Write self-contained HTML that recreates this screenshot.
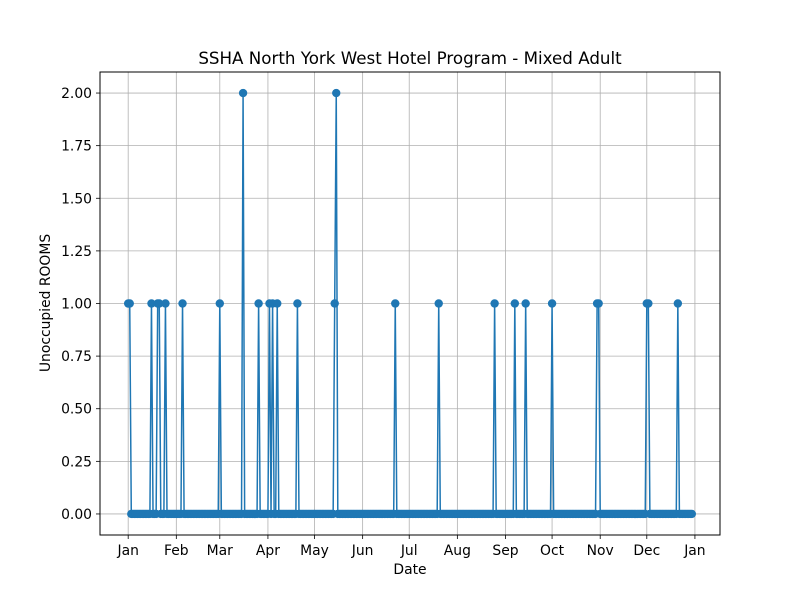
<!DOCTYPE html>
<html><head><meta charset="utf-8"><style>
body{margin:0;background:#fff}
svg{display:block;font-family:"DejaVu Sans","Liberation Sans",sans-serif}
</style></head><body>
<svg id="chart" width="800" height="600">
<rect x="0" y="0" width="800" height="600" fill="#fff"/>
<g id="grid"></g>
<g id="series"></g>
<rect x="100" y="72" width="620" height="463" fill="none" stroke="#000" stroke-width="1"/>
<g id="xticks" font-size="13.9"></g>
<g id="yticks" font-size="13.9"></g>
<text x="410" y="64" text-anchor="middle" font-size="16.7">SSHA North York West Hotel Program - Mixed Adult</text>
<text x="410" y="574" text-anchor="middle" font-size="13.9">Date</text>
<text transform="translate(50,303) rotate(-90)" text-anchor="middle" font-size="13.9">Unoccupied ROOMS</text>
</svg>
<script>
const numDays = 364;
const spikeDays = [0,1,15,19,20,24,35,59,74,84,91,93,96,109,133,134,172,200,236,249,256,273,302,303,334,335,354];
const spikeValues = [1,1,1,1,1,1,1,1,2,1,1,1,1,1,1,2,1,1,1,1,1,1,1,1,1,1,1];
const monthLabels = ["Jan","Feb","Mar","Apr","May","Jun","Jul","Aug","Sep","Oct","Nov","Dec","Jan"];
const monthDays = [0,31,59,90,120,151,181,212,243,273,304,334,365];
const yTicks = [0,0.25,0.5,0.75,1,1.25,1.5,1.75,2];

const values = new Array(numDays).fill(0);
spikeDays.forEach((d,i)=>{values[d]=spikeValues[i];});

const X0=100,X1=720,Y0=535,Y1=72;
const xmin=-(numDays-1)*0.05, xmax=(numDays-1)*1.05;
const ymin=-0.1, ymax=2.1;
const xs=d=>X0+(d-xmin)/(xmax-xmin)*(X1-X0);
const ys=v=>Y0-(v-ymin)/(ymax-ymin)*(Y0-Y1);
const NS="http://www.w3.org/2000/svg";
function mk(tag,attrs,parent){const e=document.createElementNS(NS,tag);for(const k in attrs)e.setAttribute(k,attrs[k]);parent.appendChild(e);return e;}
const grid=document.getElementById('grid'),xt=document.getElementById('xticks'),yt=document.getElementById('yticks'),ser=document.getElementById('series');

monthDays.forEach((d,i)=>{
  const x=xs(d);
  const g=mk('line',{x1:x,x2:x,y1:Y1,y2:Y0,stroke:'#b0b0b0','stroke-width':0.8},grid);
  
  
  mk('line',{x1:x,x2:x,y1:Y0,y2:Y0+4,stroke:'#000','stroke-width':0.8},xt);
  const t=mk('text',{x:x,y:Y0+20,'text-anchor':'middle'},xt);
  t.textContent=monthLabels[i];
  
  
});
yTicks.forEach(v=>{
  const y=ys(v);
  const g=mk('line',{x1:X0,x2:X1,y1:y,y2:y,stroke:'#b0b0b0','stroke-width':0.8},grid);
  
  
  mk('line',{x1:X0-4,x2:X0,y1:y,y2:y,stroke:'#000','stroke-width':0.8},yt);
  const t=mk('text',{x:X0-8,y:y+5,'text-anchor':'end'},yt);
  t.textContent=v.toFixed(2);
  
  
});
const pts=values.map((v,d)=>xs(d).toFixed(2)+','+ys(v).toFixed(2)).join(' ');
const line=mk('polyline',{points:pts,fill:'none',stroke:'#1f77b4','stroke-width':1.5,'stroke-linejoin':'round'},ser);


values.forEach((v,d)=>{
  const c=mk('circle',{cx:xs(d),cy:ys(v),r:4.2,fill:'#1f77b4'},ser);
  
  
});
</script>
</body></html>
